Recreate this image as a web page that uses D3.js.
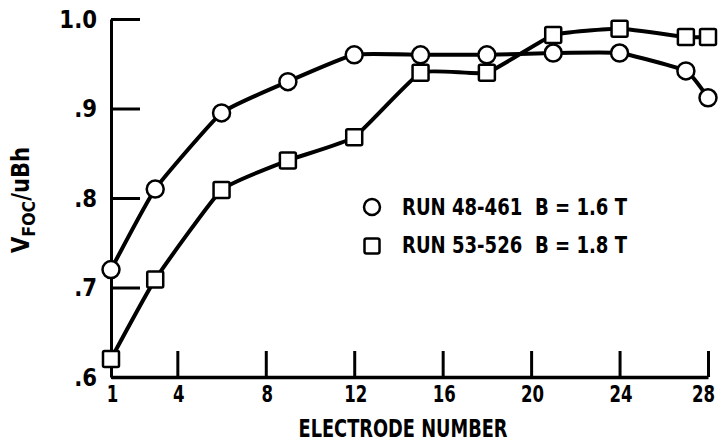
<!DOCTYPE html>
<html>
<head>
<meta charset="utf-8">
<script src="https://cdn.jsdelivr.net/npm/d3@7"></script>
<style>
  body { margin: 0; background: #fff; }
  svg text { font-family: "DejaVu Sans", sans-serif; font-weight: bold; fill: #000; }
</style>
</head>
<body>
<div id="container"></div>
<script>
const electrodes = [1, 3, 6, 9, 12, 15, 18, 21, 24, 27, 28]
const run48 = [0.72, 0.81, 0.895, 0.93, 0.96, 0.96, 0.96, 0.962, 0.962, 0.942, 0.912]
const run53 = [0.62, 0.709, 0.809, 0.842, 0.868, 0.94, 0.94, 0.982, 0.989, 0.98, 0.98]
const xTicks = [1, 4, 8, 12, 16, 20, 24, 28]
const yTicks = [0.6, 0.7, 0.8, 0.9, 1.0]
const yTickLabels = [".6", ".7", ".8", ".9", "1.0"]
const legendLabels = ["RUN 48-461  B = 1.6 T", "RUN 53-526  B = 1.8 T"]

const width = 718
const height = 446
const font = "'DejaVu Sans', sans-serif"

const svg = d3.create("svg")
    .attr("width", width)
    .attr("height", height)
document.querySelector("#container").appendChild(svg.node())

// squeeze text horizontally, the original uses a narrow typeface
function condense(sel, factor) {
    sel.each(function() {
        const w = this.getComputedTextLength()
        d3.select(this).attr("textLength", w * factor).attr("lengthAdjust", "spacingAndGlyphs")
    })
}

const x = d3.scaleLinear().domain([1, 28]).range([111, 708])
const y = d3.scaleLinear().domain([0.6, 1.0]).range([377, 19])

// axes
const xAxis = svg.append("g")
    .attr("transform", `translate(0,${y(0.6)})`)
    .call(d3.axisBottom(x).tickValues(xTicks).tickSizeInner(-26).tickSizeOuter(0).tickPadding(9))
xAxis.select(".domain").attr("stroke-width", 3.5)
xAxis.selectAll(".tick line").attr("stroke-width", 3)
xAxis.selectAll("text").attr("font-size", 23).style("font-family", font)
    .attr("transform", d => `translate(${d === 28 ? -5 : 1},0) scale(0.72,1)`)

const yAxis = svg.append("g")
    .attr("transform", `translate(${x(1)},0)`)
    .call(d3.axisLeft(y).tickValues(yTicks).tickSizeInner(-29).tickSizeOuter(0).tickPadding(14)
        .tickFormat((d, i) => yTickLabels[i]))
yAxis.select(".domain").attr("stroke-width", 3)
yAxis.selectAll(".tick line").attr("stroke-width", 3)
yAxis.selectAll("text").attr("font-size", 25).style("font-family", font)
condense(yAxis.selectAll("text"), 0.85)

svg.selectAll(".domain, .tick line").attr("stroke", "#000")

// axis titles
svg.append("text")
    .attr("x", 403)
    .attr("y", 437)
    .attr("text-anchor", "middle")
    .attr("font-size", 24)
    .attr("textLength", 209)
    .attr("lengthAdjust", "spacingAndGlyphs")
    .text("ELECTRODE NUMBER")

const yTitle = svg.append("text")
    .attr("transform", "translate(29,147) rotate(-90)")
    .attr("text-anchor", "end")
    .attr("font-size", 24)
yTitle.append("tspan").text("V")
yTitle.append("tspan").attr("font-size", 18).attr("dy", 6).text("FOC")
yTitle.append("tspan").attr("dy", -6).text("/uBh")
yTitle.attr("textLength", 106).attr("lengthAdjust", "spacingAndGlyphs")

// lines
const line = d3.line()
    .x((d, i) => x(electrodes[i]))
    .y(d => y(d))
    .curve(d3.curveCardinal.tension(0.6))

svg.append("path").datum(run53)
    .attr("d", line).attr("fill", "none").attr("stroke", "#000").attr("stroke-width", 4)
svg.append("path").datum(run48)
    .attr("d", line).attr("fill", "none").attr("stroke", "#000").attr("stroke-width", 4)

// markers
svg.append("g").selectAll("rect")
    .data(run53)
    .enter()
    .append("rect")
    .attr("x", (d, i) => x(electrodes[i]) - 8)
    .attr("y", d => y(d) - 8)
    .attr("width", 16)
    .attr("height", 16)
    .attr("rx", 1.5)
    .attr("fill", "#fff")
    .attr("stroke", "#000")
    .attr("stroke-width", 2.5)

svg.append("g").selectAll("circle")
    .data(run48)
    .enter()
    .append("circle")
    .attr("cx", (d, i) => x(electrodes[i]))
    .attr("cy", d => y(d))
    .attr("r", 8.5)
    .attr("fill", "#fff")
    .attr("stroke", "#000")
    .attr("stroke-width", 2.5)

// legend
const legend = svg.append("g").attr("transform", "translate(372,207)")
legend.append("circle")
    .attr("cx", 0).attr("cy", 0).attr("r", 8)
    .attr("fill", "#fff").attr("stroke", "#000").attr("stroke-width", 2.5)
legend.append("rect")
    .attr("x", -7.5).attr("y", 31.5).attr("width", 15).attr("height", 15).attr("rx", 2)
    .attr("fill", "#fff").attr("stroke", "#000").attr("stroke-width", 2.5)
legend.selectAll("text")
    .data(legendLabels)
    .enter()
    .append("text")
    .attr("x", 30)
    .attr("y", (d, i) => 8 + i * 38)
    .attr("font-size", 23)
    .attr("textLength", 225)
    .attr("lengthAdjust", "spacingAndGlyphs")
    .style("white-space", "pre")
    .text(d => d)
</script>
</body>
</html>
